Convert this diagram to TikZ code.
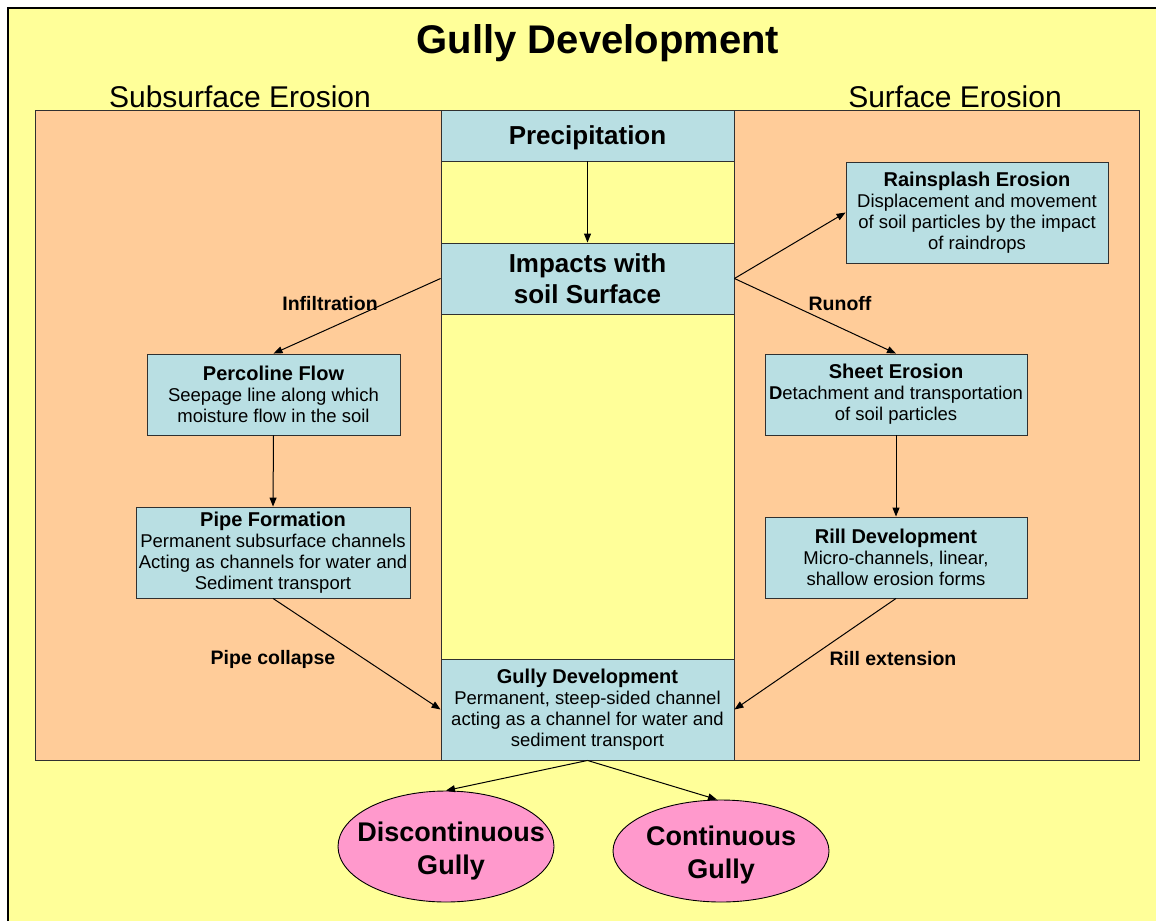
\documentclass[tikz,border=0pt]{standalone}
\usepackage{fontspec}
\setmainfont{Liberation Sans}
\usetikzlibrary{arrows.meta,shapes.geometric}
\definecolor{bgyellow}{HTML}{FFFF99}
\definecolor{bgorange}{HTML}{FFCC99}
\definecolor{boxblue}{HTML}{B9DFE3}
\definecolor{ellpink}{HTML}{FF99CC}
\definecolor{edgegray}{HTML}{303030}
\begin{document}
\begin{tikzpicture}[x=1pt,y=-1pt,
  procbox/.style={draw=edgegray,line width=0.9pt,fill=boxblue,inner sep=0pt,align=center,
    font=\fontsize{18.5}{21}\selectfont},
  bigbox/.style={procbox,font=\fontsize{26}{31}\selectfont\bfseries},
  endell/.style={ellipse,draw=black,line width=0.9pt,fill=ellpink,inner sep=0pt},
  elltext/.style={align=center,inner sep=0pt,font=\fontsize{27}{33}\selectfont\bfseries},
  elabel/.style={font=\fontsize{19.5}{22}\selectfont\bfseries,inner sep=0pt},
  conn/.style={draw=black,line width=1pt,-{Triangle[length=9pt,width=7pt]}}]
\useasboundingbox (0,0) rectangle (1156,921);
\fill[white] (0,0) rectangle (1156,921);
\fill[bgyellow] (8,8) rectangle (1156,921);
\draw[black,line width=2pt] (8,921) -- (8,8) -- (1156,8);
% orange region and central strip
\draw[fill=bgorange,draw=edgegray,line width=0.9pt] (35,110) rectangle (1139,760);
\draw[fill=bgyellow,draw=edgegray,line width=0.9pt] (441,110) rectangle (734,760);
% headings
\node[font=\fontsize{40}{44}\selectfont\bfseries] (title) at (598,43) {Gully Development};
\node[font=\fontsize{30}{34}\selectfont] (subs) at (240,97) {Subsurface Erosion};
\node[font=\fontsize{30}{34}\selectfont] (surf) at (955,97) {Surface Erosion};
% boxes
\node[bigbox,minimum width=293pt,minimum height=51pt,text depth=0pt] (precip) at (587.5,135.5) {Precipitation};
\node[bigbox,minimum width=293pt,minimum height=71pt] (impact) at (587.5,278.5) {Impacts with\\soil Surface};
\node[procbox,minimum width=262pt,minimum height=101pt] (rain) at (977,212.5)
  {{\bfseries\fontsize{20}{21}\selectfont Rainsplash Erosion}\\Displacement and movement\\of soil particles by the impact\\of raindrops};
\node[procbox,minimum width=253pt,minimum height=81pt] (perc) at (273.5,394.5)
  {{\bfseries\fontsize{20}{21}\selectfont Percoline Flow}\\Seepage line along which\\moisture flow in the soil};
\node[procbox,minimum width=274pt,minimum height=91pt] (pipe) at (273,552.5)
  {{\bfseries\fontsize{20}{21}\selectfont Pipe Formation}\\Permanent subsurface channels\\Acting as channels for water and\\Sediment transport};
\node[procbox,minimum width=262pt,minimum height=81pt] (sheet) at (896,394.5)
  {{\bfseries\fontsize{20}{21}\selectfont Sheet Erosion}\\{\bfseries D}etachment and transportation\\of soil particles};
\node[procbox,minimum width=262pt,minimum height=81pt] (rill) at (896,557.5)
  {{\bfseries\fontsize{20}{21}\selectfont Rill Development}\\Micro-channels, linear,\\shallow erosion forms};
\node[procbox,minimum width=293pt,minimum height=101pt] (gully) at (587.5,709.5)
  {{\bfseries\fontsize{20}{21}\selectfont Gully Development}\\Permanent, steep-sided channel\\acting as a channel for water and\\sediment transport};
% ellipses
\node[endell,minimum width=216pt,minimum height=111pt] (disc) at (446,846.5) {};
\node[elltext] (disctext) at (451,851) {Discontinuous\\Gully};
\node[endell,minimum width=216pt,minimum height=102pt] (cont) at (721,851) {};
\node[elltext] (conttext) at (721,855) {Continuous\\Gully};
% edge labels
\node[elabel] (linf) at (330,304) {Infiltration};
\node[elabel] (lrun) at (840,304) {Runoff};
\node[elabel] (lpipe) at (273,659) {Pipe collapse};
\node[elabel] (lrill) at (893,659) {Rill extension};
% connectors
\draw[conn] (precip.south) -- (impact.north);
\draw[conn] (impact.west) -- (perc.north);
\draw[conn] (impact.east) -- (rain.west);
\draw[conn] (impact.east) -- (sheet.north);
\draw[conn] (perc.south) -- (pipe.north);
\draw[conn] (sheet.south) -- (rill.north);
\draw[conn] (pipe.south) -- (gully.west);
\draw[conn] (rill.south) -- (gully.east);
\draw[conn] (gully.south) -- (disc.north);
\draw[conn] (gully.south) -- ([xshift=-4pt]cont.north);
\end{tikzpicture}
\end{document}
